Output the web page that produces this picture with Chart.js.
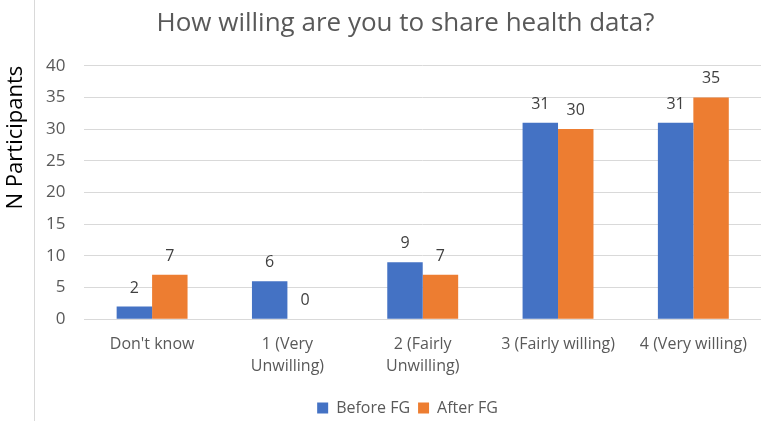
<!DOCTYPE html>
<html>
<head>
<meta charset="utf-8">
<script src="https://cdn.jsdelivr.net/npm/chart.js@4"></script>
<style>
  html, body { margin: 0; padding: 0; background: #fff; }
  #wrap { width: 761px; height: 421px; position: relative; }
</style>
</head>
<body>
<div id="wrap"><canvas id="myChart"></canvas></div>
<script>
const categories = [
  "Don't know",
  ["1 (Very", "Unwilling)"],
  ["2 (Fairly", "Unwilling)"],
  "3 (Fairly willing)",
  "4 (Very willing)",
];
const beforeFG = [2, 6, 9, 31, 31];
const afterFG = [7, 0, 7, 30, 35];
const yTicks = [0, 5, 10, 15, 20, 25, 30, 35, 40];

const FONT = "'Open Sans', 'Liberation Sans', sans-serif";
const GREY = "#595959";

// value labels above each bar
const barLabels = {
  id: "barLabels",
  afterDatasetsDraw(chart) {
    const ctx = chart.ctx;
    ctx.save();
    ctx.font = "16px " + FONT;
    ctx.fillStyle = "#404040";
    ctx.textAlign = "center";
    ctx.textBaseline = "alphabetic";
    chart.data.datasets.forEach((ds, i) => {
      chart.getDatasetMeta(i).data.forEach((bar, j) => {
        ctx.fillText(ds.data[j], bar.x, bar.y - 14);
      });
    });
    ctx.restore();
  },
};

// the original centres title/legend a bit right of the canvas centre
const nudge = {
  id: "nudge",
  afterLayout(chart) {
    chart.titleBlock.left += 25;
    chart.titleBlock.right += 25;
    chart.legend.left += 27;
    chart.legend.right += 27;
  },
};

// thin frame line left of the tick labels
const frameLine = {
  id: "frameLine",
  afterDraw(chart) {
    const ctx = chart.ctx;
    ctx.save();
    ctx.strokeStyle = "#d9d9d9";
    ctx.lineWidth = 1;
    ctx.beginPath();
    ctx.moveTo(34.5, 0);
    ctx.lineTo(34.5, chart.height);
    ctx.stroke();
    ctx.restore();
  },
};

var ctx = document.getElementById("myChart").getContext("2d");
var chart = new Chart(ctx, {
  type: "bar",
  data: {
    labels: categories,
    datasets: [
      {
        label: "Before FG",
        data: beforeFG,
        backgroundColor: "#4472c4",
        categoryPercentage: 0.524,
        barPercentage: 1.0,
      },
      {
        label: "After FG",
        data: afterFG,
        backgroundColor: "#ed7d31",
        categoryPercentage: 0.524,
        barPercentage: 1.0,
      },
    ],
  },
  options: {
    animation: { duration: 0 },
    responsive: true,
    maintainAspectRatio: false,
    layout: { padding: { left: 0, right: 0, top: 0, bottom: -5 } },
    plugins: {
      title: {
        display: true,
        text: "How willing are you to share health data?",
        color: GREY,
        font: { family: FONT, size: 26, weight: "normal" },
        padding: { top: 8, bottom: 26.5 },
      },
      legend: {
        position: "bottom",
        labels: {
          color: GREY,
          font: { family: FONT, size: 16 },
          boxWidth: 11,
          boxHeight: 11,
          padding: 8,
        },
      },
      tooltip: { enabled: false },
    },
    scales: {
      x: {
        grid: { display: false, drawTicks: false },
        border: { color: "#d9d9d9" },
        ticks: {
          color: GREY,
          font: { family: FONT, size: 16, lineHeight: 1.4 },
          maxRotation: 0,
          autoSkip: false,
          padding: 14,
        },
      },
      y: {
        min: 0,
        max: 40,
        afterBuildTicks: (axis) => {
          axis.ticks = yTicks.map((v) => ({ value: v }));
        },
        grid: { color: "#d9d9d9", drawTicks: false },
        border: { display: false },
        ticks: {
          color: GREY,
          font: { family: FONT, size: 17 },
          padding: 19,
        },
        title: {
          display: true,
          text: "N Participants",
          align: "end",
          color: "#000",
          font: { family: FONT, size: 22, lineHeight: 1.0 },
          padding: { top: 5, bottom: 0 },
        },
      },
    },
  },
  plugins: [barLabels, nudge, frameLine],
});
</script>
</body>
</html>
